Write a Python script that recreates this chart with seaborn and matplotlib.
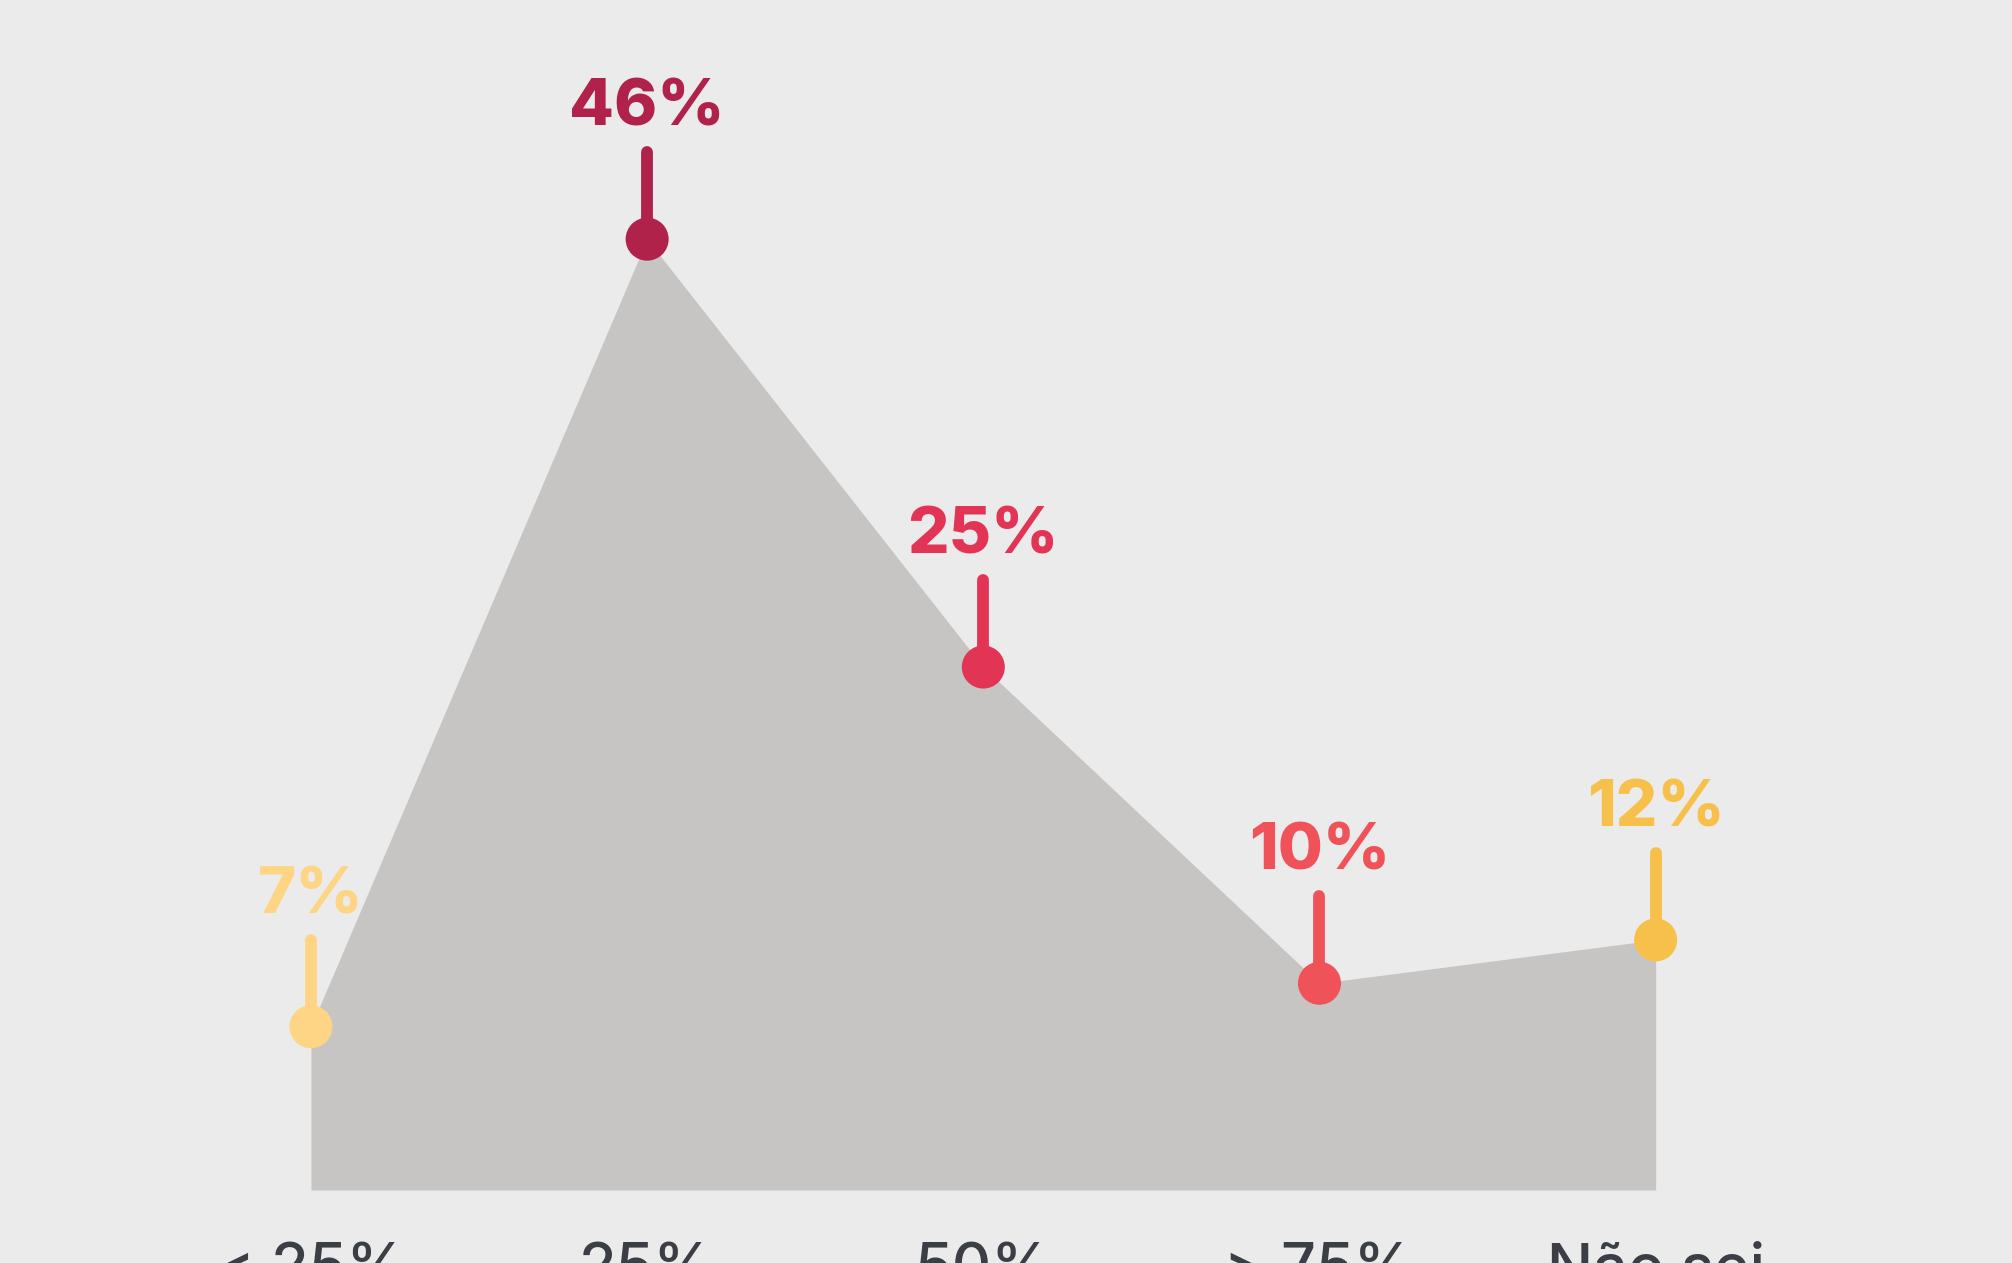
import matplotlib
matplotlib.use("Agg")
import matplotlib.pyplot as plt
import seaborn as sns
import pandas as pd

# Data (point heights as drawn, labels as printed)
categories = ["< 25%", "25%", "50%", "> 75%", "Não sei"]
values = [7.9, 46.0, 25.3, 10.0, 12.1]
labels = ["7%", "46%", "25%", "10%", "12%"]
colors = ["#FDD584", "#B0224A", "#E23455", "#F0525A", "#F7C04A"]

sns.set_theme(style="white")
plt.rcParams["font.family"] = ["Inter", "DejaVu Sans"]

bg = "#EBEBEB"
df = pd.DataFrame({"pos": range(len(categories)), "value": values, "cat": categories})

fig = plt.figure(figsize=(20.12, 12.63), dpi=100, facecolor=bg)
ax = fig.add_axes([0, 73 / 1263, 1, 1190 / 1263])
ax.set_facecolor(bg)

# grey area under the line
ax.fill_between(df["pos"], df["value"], 0, color="#C6C5C3", linewidth=0, zorder=1)

# stems above each point
stem = 4.2
for p, v, c in zip(df["pos"], df["value"], colors):
    ax.plot([p, p], [v, v + stem], color=c, linewidth=8.5,
            solid_capstyle="round", zorder=2)

# markers
sns.scatterplot(data=df, x="pos", y="value", hue="cat", palette=colors,
                s=960, linewidth=0, legend=False, zorder=3, ax=ax)

# value labels
for p, v, c, t in zip(df["pos"], df["value"], colors, labels):
    ax.text(p, v + 5.5, t, color=c, fontsize=47, fontweight="heavy",
            ha="center", va="baseline", zorder=4)

ax.set_xlim(-0.925, 5.06)
ax.set_ylim(0, 57.57)
ax.set_xticks(df["pos"])
ax.set_xticklabels(categories, fontsize=44, fontweight="medium", color="#3B3E45")
ax.tick_params(axis="x", length=0, pad=38)
ax.set_yticks([])
ax.set_xlabel("")
ax.set_ylabel("")
for s in ax.spines.values():
    s.set_visible(False)

fig.savefig("out.png", dpi=100, facecolor=bg)
